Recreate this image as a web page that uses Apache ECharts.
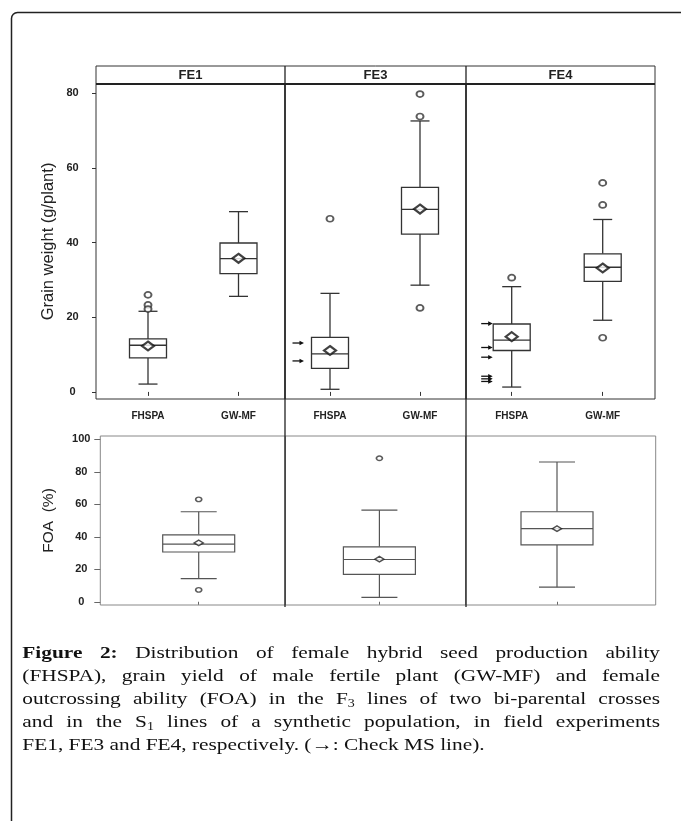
<!DOCTYPE html>
<html><head><meta charset="utf-8">
<script src="https://cdn.jsdelivr.net/npm/echarts@6/dist/echarts.min.js"></script>
<style>html,body{margin:0;padding:0;background:#fff}#c{width:681px;height:821px}</style>
</head><body><div id="c"></div>
<script>
// ---------------- data ----------------
const panels = ['FE1', 'FE3', 'FE4'];
const topCats = ['FHSPA', 'GW-MF'];
const gwTicks = [0, 20, 40, 60, 80];
const foaTicks = [0, 20, 40, 60, 80, 100];
// [lower whisker, Q1, median, Q3, upper whisker]
const fhspaBox = [[2.1, 9.1, 12.5, 14.2, 21.6], [0.7, 6.3, 10.2, 14.6, 26.4], [1.3, 11.1, 13.9, 18.2, 28.2]];
const fhspaMean = [12.3, 11.1, 14.8];
const fhspaOut = [[26.0, 23.3, 22.2], [46.4], [30.6]];
const gwmfBox = [[25.6, 31.7, 35.7, 39.9, 48.3], [28.6, 42.3, 48.9, 54.8, 72.6], [19.2, 29.6, 33.4, 37.0, 46.2]];
const gwmfMean = [35.8, 49.0, 33.2];
const gwmfOut = [[], [79.8, 73.8, 22.5], [56.0, 50.1, 14.5]];
const checkMS = [[], [13.1, 8.3], [18.3, 11.9, 9.3, 4.2, 3.5, 2.8]];
const foaBox = [[14.2, 30.6, 35.5, 41.2, 55.4], [2.7, 16.8, 26.0, 33.8, 56.4], [9.0, 35.0, 45.0, 55.4, 86.0]];
const foaMean = [36.2, 26.2, 45.0];
const foaOut = [[63.0, 7.3], [88.3], []];
const capLines = [
  '*Figure *2: Distribution of female hybrid seed production ability',
  '(FHSPA), grain yield of male fertile plant (GW-MF) and female',
  'outcrossing ability (FOA) in the F_3 lines of two bi-parental crosses',
  'and in the S_1 lines of a synthetic population, in field experiments',
  'FE1, FE3 and FE4, respectively. (\u2192: Check MS line).'
];

// ---------------- layout ----------------
const TOP = { top: 84, height: 315, lefts: [96, 285, 466], widths: [189, 181, 189],
  xr: [[0.4254, 2.5138], [0.5, 2.5111], [0.4978, 2.5747]], yr: [-1.9, 82.5] };
const BOT = { top: 436, height: 169, lefts: [100.3, 285.3, 465.7], widths: [185, 180.4, 190],
  xr: [[0, 1.88], [0, 1.917], [0, 2.081]], yr: [-2, 102] };
const arrowTip = [0, -26, -19];
const SANS = '"Liberation Sans", Arial, sans-serif';
const SERIF = '"Liberation Serif", "Times New Roman", serif';

function boxRender(boxW, capW, color, lw) {
  return function (params, api) {
    const x = api.value(0);
    const v = [1, 2, 3, 4, 5].map(i => api.value(i));
    const p = v.map(val => api.coord([x, val]));
    const cx = p[0][0], h = boxW / 2, c = capW / 2;
    const st = { stroke: color, lineWidth: lw, fill: null };
    return { type: 'group', children: [
      { type: 'line', shape: { x1: cx, y1: p[3][1], x2: cx, y2: p[4][1] }, style: st },
      { type: 'line', shape: { x1: cx, y1: p[1][1], x2: cx, y2: p[0][1] }, style: st },
      { type: 'line', shape: { x1: cx - c, y1: p[4][1], x2: cx + c, y2: p[4][1] }, style: st },
      { type: 'line', shape: { x1: cx - c, y1: p[0][1], x2: cx + c, y2: p[0][1] }, style: st },
      { type: 'rect', shape: { x: cx - h, y: p[3][1], width: boxW, height: p[1][1] - p[3][1] },
        style: { stroke: color, lineWidth: lw, fill: '#fff' } },
      { type: 'line', shape: { x1: cx - h, y1: p[2][1], x2: cx + h, y2: p[2][1] }, style: st }
    ] };
  };
}
function arrowRender(tipOff) {
  return function (params, api) {
    const p = api.coord([api.value(0), api.value(1)]);
    const tx = p[0] + tipOff, y = p[1];
    return { type: 'group', children: [
      { type: 'line', shape: { x1: tx - 11.5, y1: y, x2: tx - 3, y2: y }, style: { stroke: '#111', lineWidth: 1.3 } },
      { type: 'polygon', shape: { points: [[tx, y], [tx - 4.5, y - 2.3], [tx - 4.5, y + 2.3]] }, style: { fill: '#111' } }
    ] };
  };
}

const grid = [], xAxis = [], yAxis = [], series = [];
for (let i = 0; i < 3; i++) {
  grid.push({ left: TOP.lefts[i], top: TOP.top, width: TOP.widths[i], height: TOP.height,
    show: true, borderColor: '#333', borderWidth: 1, backgroundColor: 'transparent' });
  xAxis.push({ gridIndex: i, type: 'value', min: TOP.xr[i][0], max: TOP.xr[i][1],
    axisLine: { show: false }, splitLine: { show: false },
    axisTick: { show: true, customValues: [1, 2], length: 4, lineStyle: { color: '#333', width: 1 } },
    axisLabel: { show: true, customValues: [1, 2], formatter: v => topCats[Math.round(v) - 1],
      fontFamily: SANS, fontWeight: 'bold', fontSize: 10, color: '#222', margin: 12 } });
  yAxis.push({ gridIndex: i, type: 'value', min: TOP.yr[0], max: TOP.yr[1], show: i === 0,
    axisLine: { show: false }, splitLine: { show: false },
    axisTick: { show: true, customValues: gwTicks, length: 4, lineStyle: { color: '#333' } },
    axisLabel: { customValues: gwTicks, fontFamily: SANS, fontWeight: 'bold', fontSize: 11,
      color: '#222', align: 'center', margin: 23.5 },
    name: i === 0 ? 'Grain weight (g/plant)' : '', nameLocation: 'middle', nameRotate: 90, nameGap: 39,
    nameTextStyle: { fontFamily: SANS, fontSize: 16.5, color: '#222' } });
}
for (let i = 0; i < 3; i++) {
  const g = 3 + i;
  grid.push({ left: BOT.lefts[i], top: BOT.top, width: BOT.widths[i], height: BOT.height,
    show: true, borderColor: '#888', borderWidth: 1, backgroundColor: 'transparent' });
  xAxis.push({ gridIndex: g, type: 'value', min: BOT.xr[i][0], max: BOT.xr[i][1],
    axisLine: { show: false }, splitLine: { show: false },
    axisTick: { show: true, customValues: [1], length: 3, lineStyle: { color: '#666' } },
    axisLabel: { show: false } });
  yAxis.push({ gridIndex: g, type: 'value', min: BOT.yr[0], max: BOT.yr[1], show: i === 0,
    axisLine: { show: false }, splitLine: { show: false },
    axisTick: { show: true, customValues: foaTicks, length: 6, lineStyle: { color: '#666' } },
    axisLabel: { customValues: foaTicks, fontFamily: SANS, fontWeight: 'bold', fontSize: 11,
      color: '#222', align: 'center', margin: 19 },
    name: i === 0 ? 'FOA  (%)' : '', nameLocation: 'middle', nameRotate: 90, nameGap: 44,
    nameTextStyle: { fontFamily: SANS, fontSize: 15.5, color: '#222' } });
}

for (let i = 0; i < 3; i++) {
  series.push({ type: 'custom', xAxisIndex: i, yAxisIndex: i, renderItem: boxRender(37, 19, '#333', 1.3),
    encode: { x: 0, y: [1, 2, 3, 4, 5] }, clip: false, z: 2,
    data: [[1].concat(fhspaBox[i]), [2].concat(gwmfBox[i])] });
  const outs = fhspaOut[i].map(v => [1, v]).concat(gwmfOut[i].map(v => [2, v]));
  series.push({ type: 'scatter', xAxisIndex: i, yAxisIndex: i, symbol: 'circle', symbolSize: [7, 6], z: 3,
    itemStyle: { color: '#fff', borderColor: '#333', borderWidth: 1.8 }, data: outs });
  series.push({ type: 'scatter', xAxisIndex: i, yAxisIndex: i, symbol: 'diamond', symbolSize: [12, 9], z: 4,
    itemStyle: { color: '#fff', borderColor: '#111', borderWidth: 2.2 },
    data: [[1, fhspaMean[i]], [2, gwmfMean[i]]] });
  if (checkMS[i].length) {
    series.push({ type: 'custom', xAxisIndex: i, yAxisIndex: i, renderItem: arrowRender(arrowTip[i]),
      encode: { x: 0, y: 1 }, clip: false, z: 5, data: checkMS[i].map(v => [1, v]) });
  }
  const g = 3 + i;
  series.push({ type: 'custom', xAxisIndex: g, yAxisIndex: g, renderItem: boxRender(72, 36, '#555', 1.2),
    encode: { x: 0, y: [1, 2, 3, 4, 5] }, clip: false, z: 2, data: [[1].concat(foaBox[i])] });
  series.push({ type: 'scatter', xAxisIndex: g, yAxisIndex: g, symbol: 'circle', symbolSize: [6, 4.5], z: 3,
    itemStyle: { color: '#fff', borderColor: '#333', borderWidth: 1.5 }, data: foaOut[i].map(v => [1, v]) });
  series.push({ type: 'scatter', xAxisIndex: g, yAxisIndex: g, symbol: 'diamond', symbolSize: [9, 5.5], z: 4,
    itemStyle: { color: '#fff', borderColor: '#222', borderWidth: 1.6 }, data: [[1, foaMean[i]]] });
}

// ---------------- graphics: frame, strip, dividers, caption ----------------
const graphic = [];
graphic.push({ type: 'rect', shape: { x: 11.5, y: 12.5, width: 740, height: 900, r: 6 },
  style: { fill: null, stroke: '#222', lineWidth: 1.5 }, silent: true });
const topRight = TOP.lefts[2] + TOP.widths[2];
graphic.push({ type: 'rect', shape: { x: TOP.lefts[0], y: 66, width: topRight - TOP.lefts[0], height: TOP.top - 66 },
  style: { fill: null, stroke: '#333', lineWidth: 1 }, silent: true });
graphic.push({ type: 'line', shape: { x1: TOP.lefts[0], y1: TOP.top, x2: topRight, y2: TOP.top },
  style: { stroke: '#222', lineWidth: 2 }, silent: true });
for (let i = 1; i < 3; i++) {
  graphic.push({ type: 'line', shape: { x1: TOP.lefts[i], y1: 66, x2: TOP.lefts[i], y2: 607 },
    style: { stroke: '#222', lineWidth: 1.3 }, silent: true });
}
for (let i = 0; i < 3; i++) {
  graphic.push({ type: 'text', x: TOP.lefts[i] + TOP.widths[i] / 2, y: 75.5,
    style: { text: panels[i], font: 'bold 13px ' + SANS, fill: '#222', align: 'center', verticalAlign: 'middle' }, silent: true });
}

// caption with justified lines
const ctx = document.createElement('canvas').getContext('2d');
const SX = 1.22;
const F_N = '17.5px ' + SERIF, F_B = 'bold 17.5px ' + SERIF, F_S = '11.5px ' + SERIF;
function mw(t, f) { ctx.font = f; return ctx.measureText(t).width * SX; }
const capL = 22.3, capR = 660, base0 = 659, lineH = 23.1;
capLines.forEach((line, li) => {
  const words = line.split(' ').map(w => {
    let bold = false;
    if (w[0] === '*') { bold = true; w = w.slice(1); }
    let runs;
    if (!bold && w.indexOf('_') > 0) {
      const k = w.indexOf('_');
      runs = [{ t: w.slice(0, k), f: F_N, dy: 0 }, { t: w.slice(k + 1), f: F_S, dy: 4 }];
    } else runs = [{ t: w, f: bold ? F_B : F_N, dy: 0 }];
    runs.forEach(r => r.w = mw(r.t, r.f));
    return { runs, w: runs.reduce((s, r) => s + r.w, 0) };
  });
  const total = words.reduce((s, w) => s + w.w, 0);
  const last = li === capLines.length - 1;
  const gap = last ? mw(' ', F_N) : (capR - capL - total) / (words.length - 1);
  let x = capL;
  const yMid = base0 + li * lineH - 5.7;
  words.forEach(w => {
    let rx = x;
    w.runs.forEach(r => {
      graphic.push({ type: 'text', x: rx, y: yMid + r.dy, scaleX: SX, silent: true,
        style: { text: r.t, font: r.f, fill: '#111', align: 'left', verticalAlign: 'middle' } });
      rx += r.w;
    });
    x += w.w + gap;
  });
});

const chart = echarts.init(document.getElementById('c'), null, { renderer: 'canvas' });
chart.setOption({ animation: false, backgroundColor: '#fff', grid, xAxis, yAxis, series, graphic });
</script></body></html>
